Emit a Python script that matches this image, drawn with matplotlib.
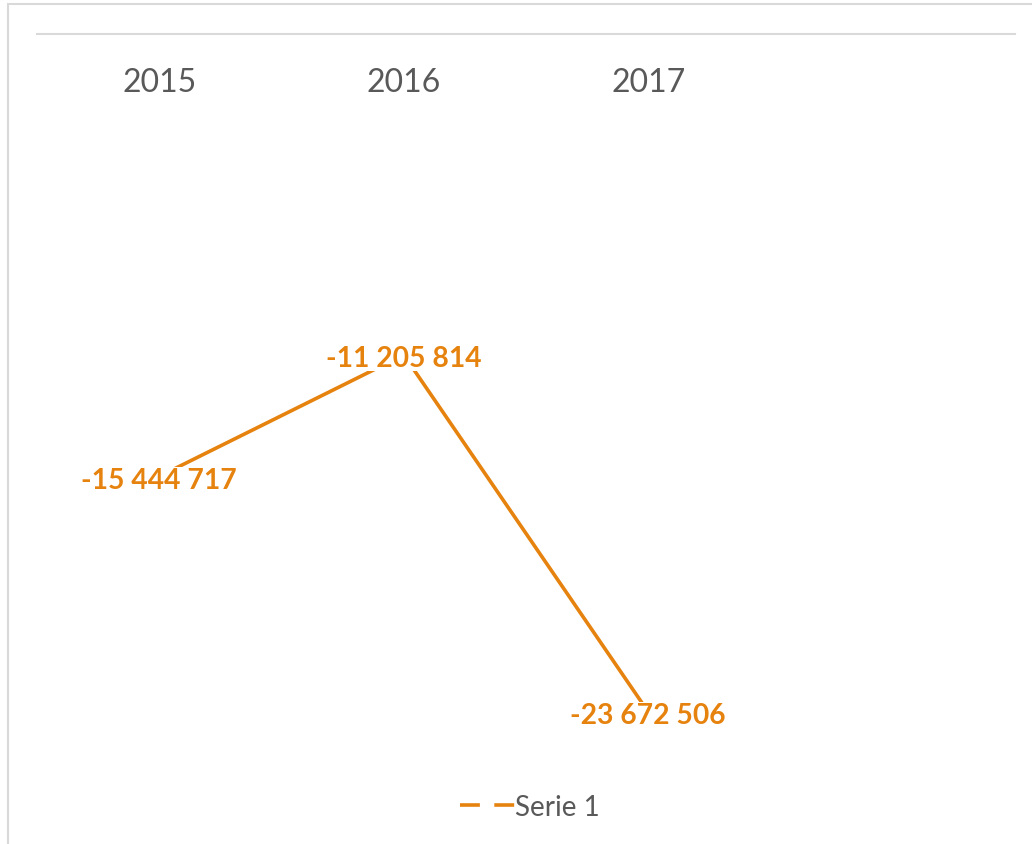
import matplotlib.pyplot as plt
from matplotlib.lines import Line2D
from matplotlib.patches import Rectangle

# ======== Dados =========
anos = ["2015", "2016", "2017"]
valores = [-15444717, -11205814, -23672506]
serie_nome = "Serie 1"

laranja = "#E6820E"
cinza = "#595959"

plt.rcParams['font.family'] = ['Lato', 'DejaVu Sans']

fig = plt.figure(figsize=(10.32, 8.45), dpi=100)

# moldura do gráfico (estilo Excel)
fig.patches.append(Rectangle((8 / 1032, -0.1), 1.2, 1 - 5 / 845 + 0.1,
                             transform=fig.transFigure, fill=False,
                             edgecolor="#D9D9D9", linewidth=1.5))

ax = fig.add_axes([37 / 1032, 1 - 751 / 845, (1015 - 37) / 1032, (751 - 35) / 845])

x = list(range(len(anos)))
ax.plot(x, valores, color=laranja, linewidth=2.6, solid_capstyle='butt', zorder=2)

# rótulos de dados com fundo branco
for xi, v in zip(x, valores):
    txt = f"{v:,}".replace(",", " ")
    ax.annotate(txt, (xi, v), xytext=(0, -2.5), textcoords='offset points',
                ha='center', va='center', fontsize=20.3, fontweight='bold',
                color=laranja, zorder=3,
                bbox=dict(boxstyle='square,pad=0.0', fc='white', ec='none'))

ax.set_xlim(-0.5, 3.5)
ax.set_ylim(-25e6, 0)

# eixo de categorias no topo
ax.xaxis.tick_top()
ax.set_xticks(x)
ax.set_xticklabels(anos, fontsize=23, color=cinza)
ax.tick_params(axis='x', length=0, pad=-45)
ax.set_yticks([])
for lado in ['left', 'right', 'bottom']:
    ax.spines[lado].set_visible(False)
ax.spines['top'].set_color("#D9D9D9")
ax.spines['top'].set_linewidth(1.5)

# legenda
handle = Line2D([0], [0], color=laranja, linewidth=2.6, dashes=(5.5, 4))
fig.legend([handle], [serie_nome], loc='center', bbox_to_anchor=(530 / 1032, 1 - 808 / 845),
           frameon=False, fontsize=20, labelcolor=cinza, handlelength=2.0, handletextpad=0.0)

fig.savefig("out.png", dpi=100)
